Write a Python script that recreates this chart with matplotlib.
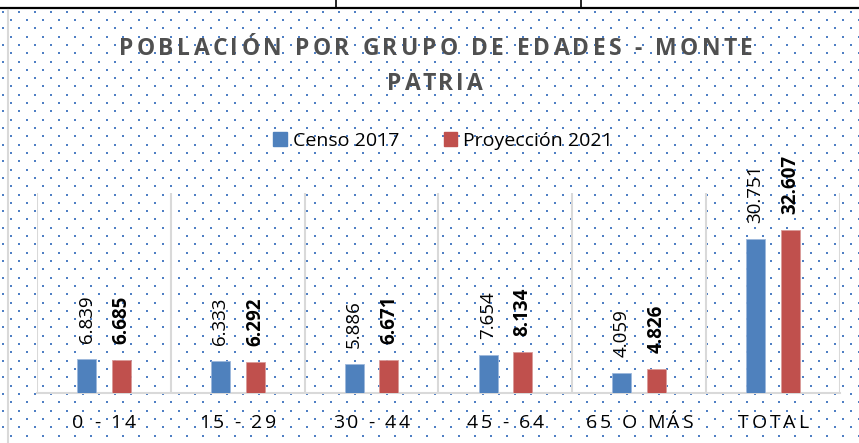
import numpy as np
import matplotlib
matplotlib.use("Agg")
import matplotlib.pyplot as plt
from matplotlib.patches import Patch
from matplotlib.transforms import IdentityTransform

# Data
categories = ["0 - 14", "15 - 29", "30 - 44", "45 - 64", "65 O MÁS", "TOTAL"]
censo_2017 = [6839, 6333, 5886, 7654, 4059, 30751]
proyeccion_2021 = [6685, 6292, 6671, 8134, 4826, 32607]
series_names = ["Censo 2017", "Proyección 2021"]
title_lines = ["POBLACIÓN POR GRUPO DE EDADES - MONTE", "PATRIA"]

W, H = 859, 443
blue = "#4F81BD"
red = "#C0504D"
grid_gray = "#D9D9D9"

plt.rcParams["font.family"] = ["Open Sans", "DejaVu Sans"]

fig = plt.figure(figsize=(W / 100, H / 100), dpi=100)
fig.patch.set_facecolor("white")

# background: dotted pattern + table lines, drawn in image pixel coords
bg = fig.add_axes([0, 0, 1, 1], zorder=-1)
bg.set_xlim(0, W)
bg.set_ylim(H, 0)
bg.axis("off")
rows = np.arange(11.7, H, 8.31)
dx, dy = [], []
for k, yy in enumerate(rows):
    start = 2.7 if k % 2 == 0 else 10.7
    xs = np.arange(start, W, 16)
    dx.extend(xs)
    dy.extend([yy] * len(xs))
bg.scatter(dx, dy, s=4.2, marker="s", color="#4F7FC4", linewidths=0)
bg.plot([0, W], [8.3, 8.3], color="black", lw=1.6, solid_capstyle="butt")
bg.plot([335.5, 335.5], [0, 8.3], color="black", lw=1.2)
bg.plot([581, 581], [0, 8.3], color="black", lw=1.2)
bg.plot([7.5, 7.5], [10, H], color=grid_gray, lw=1.5)

# main chart
ax = fig.add_axes([37 / W, 1 - 393 / H, 803 / W, 200 / H])
ax.set_facecolor("none")
x = np.arange(len(categories))
bw = 0.142
off = 0.13
b1 = ax.bar(x - off, censo_2017, bw, color=blue, edgecolor="#9DB8DC", lw=0.6, zorder=3)
b2 = ax.bar(x + off, proyeccion_2021, bw, color=red, edgecolor="#DA9A98", lw=0.6, zorder=3)
ax.set_xlim(-0.5, len(categories) - 0.5)
ax.set_ylim(0, 40000)
for b in np.arange(-0.5, len(categories)):
    ax.axvline(b, color=grid_gray, lw=1.5, zorder=1)
for s in ["left", "right", "top"]:
    ax.spines[s].set_visible(False)
ax.spines["bottom"].set_color(grid_gray)
ax.spines["bottom"].set_linewidth(1.5)
ax.tick_params(length=0, labelbottom=False, labelleft=False)


def fmt(v):
    return f"{v:,}".replace(",", ".")


for rect, v in zip(b1, censo_2017):
    ax.annotate(fmt(v), (rect.get_x() + rect.get_width() / 2, v),
                xytext=(0, 16), textcoords="offset pixels", rotation=90,
                ha="center", va="bottom", fontsize=13.5, color="black")
for rect, v in zip(b2, proyeccion_2021):
    ax.annotate(fmt(v), (rect.get_x() + rect.get_width() / 2, v),
                xytext=(0, 16), textcoords="offset pixels", rotation=90,
                ha="center", va="bottom", fontsize=13.5, color="black",
                fontweight="bold")

renderer = fig.canvas.get_renderer()


def text_width(txt, **kw):
    t = fig.text(0, 0, txt, transform=IdentityTransform(), **kw)
    w = t.get_window_extent(renderer).width
    t.remove()
    return w


def spaced_text(s, xc, y_img, gap, **kw):
    # letter-spaced text, centred on xc, baseline at y_img (pixels from top)
    bar = text_width("|", **kw)
    starts = [0] + [text_width(s[:i] + "|", **kw) - bar for i in range(1, len(s))]
    total = text_width(s, **kw) + gap * (len(s) - 1)
    x0 = xc - total / 2
    for i, ch in enumerate(s):
        if ch == " ":
            continue
        fig.text(x0 + starts[i] + gap * i, H - y_img, ch,
                 transform=IdentityTransform(), ha="left", va="baseline", **kw)


# title
title_kw = dict(fontsize=16.5, fontweight="bold", color="#505050")
spaced_text(title_lines[0], 436, 55, 3.5, **title_kw)
spaced_text(title_lines[1], 435, 90, 3.5, **title_kw)

# category labels
for i, c in enumerate(categories):
    xc = ax.transData.transform((i, 0))[0]
    spaced_text(c, xc, 427.5, 2.6, fontsize=14, color="black")

# legend
handles = [Patch(color=blue), Patch(color=red)]
fig.legend(handles, series_names, loc="center", bbox_to_anchor=(443 / W, 1 - 141 / H),
           ncol=2, frameon=False, fontsize=14, handlelength=0.7, handleheight=0.7,
           handletextpad=0.3, columnspacing=2.3, borderpad=0)

fig.savefig("out.png", dpi=100)
